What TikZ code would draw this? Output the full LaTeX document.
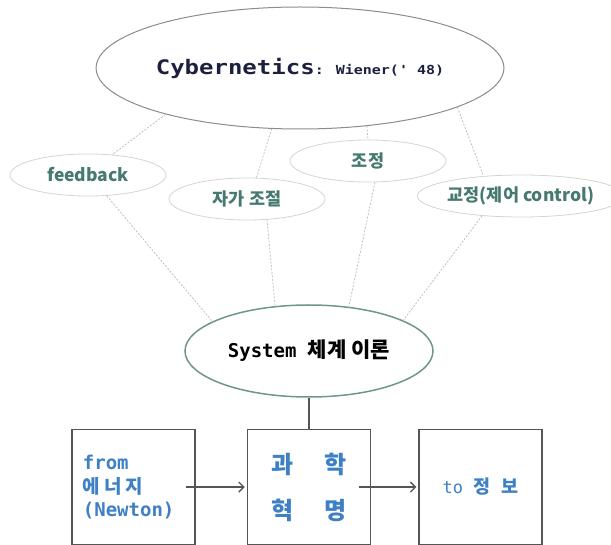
\documentclass[tikz,border=0pt]{standalone}
\usepackage{fontspec}
\setmainfont{Noto Sans CJK KR}
\newfontfamily\widemono[FakeStretch=1.2]{DejaVu Sans Mono}
\newfontfamily\plainmono{DejaVu Sans Mono}
\usetikzlibrary{positioning,arrows.meta,shapes.geometric}
\definecolor{labelteal}{RGB}{70,122,112}
\definecolor{titlenavy}{RGB}{28,32,62}
\definecolor{boxblue}{RGB}{62,128,196}
\definecolor{boxgray}{RGB}{85,85,85}
\definecolor{topgray}{RGB}{140,140,140}
\definecolor{ringgray}{RGB}{212,212,212}
\definecolor{hubline}{RGB}{110,150,140}
\definecolor{linkgray}{RGB}{185,185,185}
\tikzset{
  bubble/.style={draw=ringgray,ellipse,line width=0.8pt,minimum width=156pt,minimum height=42pt,
                 inner sep=0pt,text=labelteal,font=\fontsize{17.5}{20}\selectfont\bfseries},
  hub/.style={draw=hubline,ellipse,line width=1.5pt,minimum width=248pt,minimum height=92pt,
              inner sep=0pt,font=\bfseries},
  box/.style={draw=boxgray,line width=1.6pt,minimum width=123pt,minimum height=115pt,
              inner sep=0pt,text=boxblue,align=center},
  link/.style={draw=linkgray,dash pattern=on 2pt off 1.5pt,line width=0.7pt},
  flowarr/.style={-{Straight Barb[length=5pt,width=10pt]},line width=1.3pt,draw=boxgray}
}

\begin{document}
\begin{tikzpicture}[x=1pt,y=-1pt]
\useasboundingbox (0,0) rectangle (611,545);

\node[ellipse,draw=topgray,line width=1pt,minimum width=320pt,minimum height=122pt,inner sep=0pt] (cyb) at (300,68)
  {{\widemono\bfseries\fontsize{20}{24}\selectfont\color{titlenavy}Cybernetics}{\widemono\bfseries\fontsize{12.5}{15}\selectfont\color{titlenavy}: Wiener(' 48)}};

\node[bubble] (fb) at (88,175) {feedback};
\node[bubble] (selfreg) at (247,199) {자가 조절};
\node[bubble] (adjust) at (368,161) {조정};
\node[bubble, minimum width=178pt] (correct) at (521,196) {교정(제어 control)};

\node[hub] (sys) at (309,351)
  {{\plainmono\fontsize{19}{22}\selectfont System\ }{\fontsize{21}{24}\selectfont 체계\ 이론}};

\node[box, below=31pt of sys, font=\fontsize{24}{46}\selectfont\bfseries] (mbox)
  {과\hspace{30pt}학\\혁\hspace{30pt}명};
\node[box, left=51pt of mbox, align=left, text width=101pt, inner xsep=11pt,
      font=\plainmono\bfseries\fontsize{19}{23.5}\selectfont] (lbox)
  {from\\{\normalfont\bfseries\fontsize{19}{23.5}\selectfont 에\hspace{4pt}너\hspace{4pt}지}\\(Newton)};
\node[box, right=47pt of mbox] (rbox)
  {{\plainmono\fontsize{17}{19}\selectfont to\ }{\bfseries\fontsize{18.5}{22}\selectfont 정\hspace{11pt}보}};

\draw[link] (cyb.199) -- (fb.40);
\draw[link] (cyb.245) -- (selfreg.66);
\draw[link] (cyb.319) -- (adjust.90);
\draw[link] (cyb.346) -- (correct.152);
\draw[link] (fb.312) -- (sys.163);
\draw[link] (selfreg.314) -- (sys.127);
\draw[link] (adjust.288) -- (sys.48);
\draw[link] (correct.207) -- (sys.18);

\draw[draw=boxgray,line width=1.5pt] (sys.south) -- (mbox.north);
\draw[flowarr, shorten >=2pt] ([xshift=-10pt]lbox.east) -- (mbox.west);
\draw[flowarr, shorten >=2pt] ([xshift=-12pt]mbox.east) -- (rbox.west);
\end{tikzpicture}
\end{document}
